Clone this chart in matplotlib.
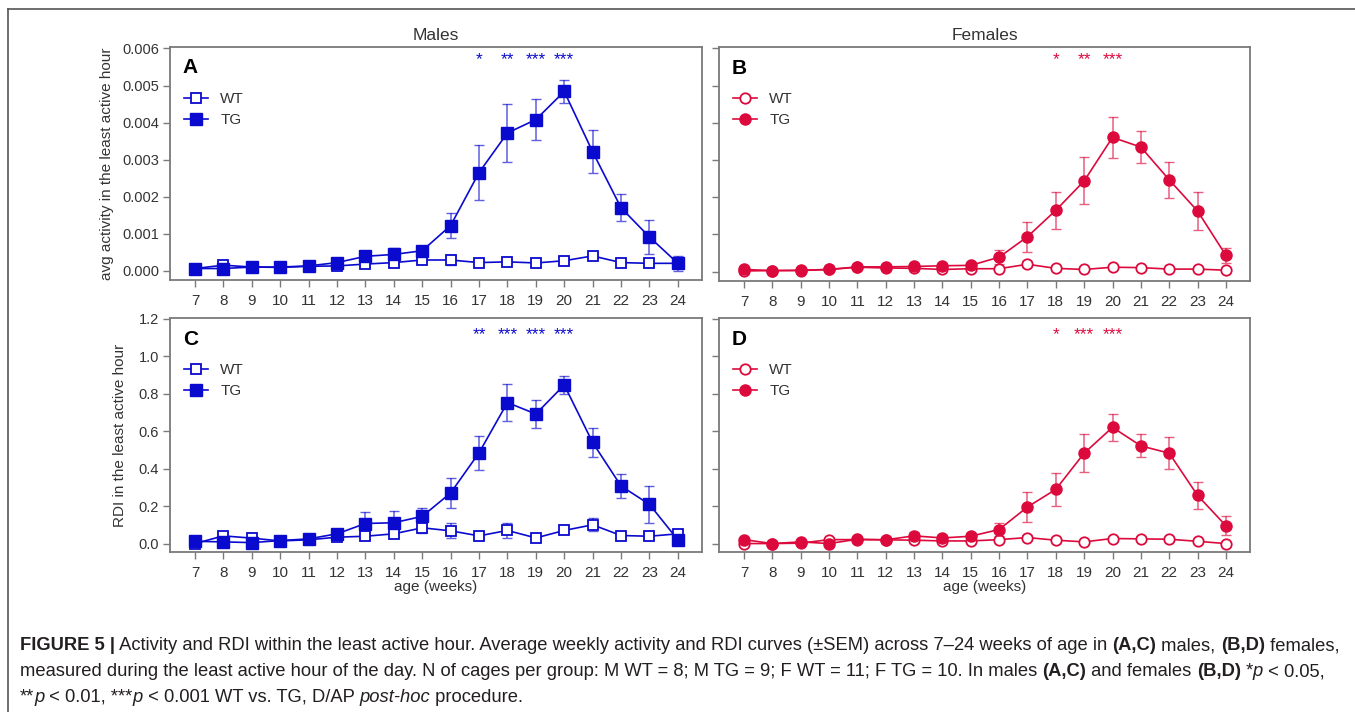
import numpy as np
import matplotlib
matplotlib.use("Agg")
import matplotlib.pyplot as plt
from matplotlib.lines import Line2D

plt.rcParams['font.family'] = ['Liberation Sans', 'DejaVu Sans']

weeks = list(range(7, 25))

# avg activity in the least active hour, males
act_m_wt = [0.00006, 0.00015, 0.00010, 0.00009, 0.00012, 0.00013, 0.00018, 0.00022, 0.00029,
            0.00029, 0.00022, 0.00024, 0.00021, 0.00027, 0.00040, 0.00022, 0.00020, 0.00020]
act_m_wt_sem = [0.00003, 0.00004, 0.00003, 0.00004, 0.00003, 0.00004, 0.00004, 0.00004, 0.00005,
                0.00013, 0.00004, 0.00004, 0.00004, 0.00004, 0.00005, 0.00004, 0.00004, 0.00005]
act_m_tg = [0.00006, 0.00006, 0.00010, 0.00010, 0.00013, 0.00022, 0.00039, 0.00044, 0.00054,
            0.00122, 0.00265, 0.00372, 0.00408, 0.00484, 0.00321, 0.00170, 0.00091, 0.00020]
act_m_tg_sem = [0.00003, 0.00003, 0.00003, 0.00003, 0.00003, 0.00005, 0.00015, 0.00018, 0.00008,
                0.00034, 0.00075, 0.00078, 0.00056, 0.00030, 0.00058, 0.00037, 0.00046, 0.00020]

# avg activity in the least active hour, females
act_f_wt = [0.00002, 0.00003, 0.00003, 0.00006, 0.00012, 0.00010, 0.00009, 0.00006, 0.00008,
            0.00008, 0.00020, 0.00009, 0.00006, 0.00012, 0.00011, 0.00007, 0.00007, 0.00004]
act_f_wt_sem = [0.00002, 0.00002, 0.00002, 0.00002, 0.00003, 0.00003, 0.00003, 0.00003, 0.00003,
                0.00003, 0.00008, 0.00003, 0.00002, 0.00003, 0.00003, 0.00002, 0.00002, 0.00002]
act_f_tg = [0.00006, 0.00003, 0.00004, 0.00006, 0.00013, 0.00013, 0.00014, 0.00016, 0.00017,
            0.00039, 0.00094, 0.00165, 0.00244, 0.00361, 0.00335, 0.00247, 0.00163, 0.00044]
act_f_tg_sem = [0.00003, 0.00002, 0.00003, 0.00003, 0.00004, 0.00005, 0.00005, 0.00005, 0.00005,
                0.00018, 0.00040, 0.00050, 0.00063, 0.00056, 0.00044, 0.00048, 0.00051, 0.00021]

# RDI in the least active hour, males
rdi_m_wt = [0.000, 0.041, 0.029, 0.014, 0.020, 0.034, 0.039, 0.052, 0.084,
            0.068, 0.041, 0.070, 0.030, 0.070, 0.100, 0.043, 0.039, 0.052]
rdi_m_wt_sem = [0.010, 0.020, 0.012, 0.008, 0.012, 0.012, 0.015, 0.015, 0.030,
                0.040, 0.020, 0.040, 0.010, 0.015, 0.035, 0.012, 0.012, 0.015]
rdi_m_tg = [0.012, 0.009, 0.005, 0.016, 0.025, 0.052, 0.107, 0.111, 0.145,
            0.270, 0.484, 0.752, 0.691, 0.846, 0.539, 0.307, 0.209, 0.020]
rdi_m_tg_sem = [0.010, 0.008, 0.006, 0.008, 0.010, 0.015, 0.059, 0.064, 0.043,
                0.079, 0.092, 0.100, 0.075, 0.050, 0.079, 0.062, 0.097, 0.012]

# RDI in the least active hour, females
rdi_f_wt = [0.000, 0.000, 0.002, 0.021, 0.021, 0.020, 0.018, 0.014, 0.014,
            0.021, 0.032, 0.018, 0.009, 0.027, 0.025, 0.023, 0.012, 0.000]
rdi_f_wt_sem = [0.008, 0.005, 0.006, 0.010, 0.008, 0.008, 0.008, 0.006, 0.006,
                0.008, 0.012, 0.006, 0.005, 0.008, 0.008, 0.012, 0.006, 0.005]
rdi_f_tg = [0.021, 0.000, 0.009, 0.000, 0.023, 0.020, 0.041, 0.030, 0.039,
            0.075, 0.195, 0.289, 0.482, 0.620, 0.521, 0.482, 0.257, 0.095]
rdi_f_tg_sem = [0.010, 0.005, 0.008, 0.006, 0.010, 0.010, 0.020, 0.018, 0.020,
                0.034, 0.080, 0.088, 0.100, 0.073, 0.061, 0.086, 0.073, 0.051]

# significance marks (WT vs TG) per panel
sig_weeks_a = [17, 18, 19, 20]
sig_marks_a = ['*', '**', '***', '***']
sig_weeks_b = [18, 19, 20]
sig_marks_b = ['*', '**', '***']
sig_weeks_c = [17, 18, 19, 20]
sig_marks_c = ['**', '***', '***', '***']
sig_weeks_d = [18, 19, 20]
sig_marks_d = ['*', '***', '***']

BLUE = '#0A0ACF'
RED = '#DC0A3C'
SPINE = '#7a7a7a'
TXT = '#333333'

W, H = 1355, 712
fig = plt.figure(figsize=(W / 100, H / 100), dpi=100)


def px_axes(x0, x1, y0, y1):
    return fig.add_axes([x0 / W, 1 - y1 / H, (x1 - x0) / W, (y1 - y0) / H])


ax_a = px_axes(170, 702, 47, 280)
ax_b = px_axes(719, 1250, 47, 281)
ax_c = px_axes(170, 702, 318, 552)
ax_d = px_axes(719, 1250, 318, 552)


def draw_panel(ax, wt, wt_sem, tg, tg_sem, color, marker, letter, sig_w, sig_m, star_y):
    # error bars are a bit lighter than the lines and markers
    ax.errorbar(weeks, wt, yerr=wt_sem, fmt='none', ecolor=color, elinewidth=1.1,
                capsize=3.5, alpha=0.65, zorder=2)
    ax.errorbar(weeks, tg, yerr=tg_sem, fmt='none', ecolor=color, elinewidth=1.1,
                capsize=3.5, alpha=0.65, zorder=2)
    ax.plot(weeks, wt, color=color, marker=marker, markersize=7.5,
            markerfacecolor='white', markeredgecolor=color, markeredgewidth=1.3,
            linewidth=1.2, zorder=3)
    ax.plot(weeks, tg, color=color, marker=marker, markersize=8,
            markerfacecolor=color, markeredgecolor=color, linewidth=1.2, zorder=4)
    ax.set_xlim(6.12, 24.85)
    ax.set_xticks(weeks)
    for s in ax.spines.values():
        s.set_color(SPINE)
        s.set_linewidth(1.3)
    ax.tick_params(direction='out', length=5, width=1, color=SPINE, labelcolor=TXT,
                   labelsize=10.5, pad=3)
    ax.tick_params(axis='x', labelsize=11, pad=5)
    ax.text(0.024, 0.91, letter, transform=ax.transAxes, fontsize=15, fontweight='bold',
            va='center', ha='left', color='black')
    for w, m in zip(sig_w, sig_m):
        ax.text(w, star_y, m, transform=ax.get_xaxis_transform(), fontsize=12.5,
                color=color, ha='center', va='center')
    h_wt = Line2D([], [], color=color, marker=marker, markersize=7.5, markerfacecolor='white',
                  markeredgewidth=1.3, linewidth=1.2)
    h_tg = Line2D([], [], color=color, marker=marker, markersize=8, markerfacecolor=color,
                  linewidth=1.2)
    ax.legend([h_wt, h_tg], ['WT', 'TG'], loc='upper left', bbox_to_anchor=(0.0, 0.865),
              frameon=False, handlelength=1.6, handletextpad=0.8, labelspacing=0.45,
              fontsize=11, labelcolor=TXT)


draw_panel(ax_a, act_m_wt, act_m_wt_sem, act_m_tg, act_m_tg_sem, BLUE, 's', 'A',
           sig_weeks_a, sig_marks_a, 0.945)
draw_panel(ax_b, act_f_wt, act_f_wt_sem, act_f_tg, act_f_tg_sem, RED, 'o', 'B',
           sig_weeks_b, sig_marks_b, 0.945)
draw_panel(ax_c, rdi_m_wt, rdi_m_wt_sem, rdi_m_tg, rdi_m_tg_sem, BLUE, 's', 'C',
           sig_weeks_c, sig_marks_c, 0.93)
draw_panel(ax_d, rdi_f_wt, rdi_f_wt_sem, rdi_f_tg, rdi_f_tg_sem, RED, 'o', 'D',
           sig_weeks_d, sig_marks_d, 0.93)

act_ticks = [0.0, 0.001, 0.002, 0.003, 0.004, 0.005, 0.006]
rdi_ticks = [0.0, 0.2, 0.4, 0.6, 0.8, 1.0, 1.2]
for ax in (ax_a, ax_b):
    ax.set_ylim(-0.00025, 0.00604)
    ax.set_yticks(act_ticks)
for ax in (ax_c, ax_d):
    ax.set_ylim(-0.045, 1.203)
    ax.set_yticks(rdi_ticks)
ax_a.set_yticklabels([f'{t:.3f}' for t in act_ticks])
ax_c.set_yticklabels([f'{t:.1f}' for t in rdi_ticks])
ax_b.set_yticklabels([])
ax_d.set_yticklabels([])

ax_a.set_ylabel('avg activity in the least active hour', fontsize=11, color=TXT, labelpad=6)
ax_c.set_ylabel('RDI in the least active hour', fontsize=11, color=TXT, labelpad=8)
ax_c.set_xlabel('age (weeks)', fontsize=11, color=TXT, labelpad=0)
ax_d.set_xlabel('age (weeks)', fontsize=11, color=TXT, labelpad=0)
ax_a.set_title('Males', fontsize=12.5, color=TXT, pad=5)
ax_b.set_title('Females', fontsize=12.5, color=TXT, pad=5)

# frame around the figure
fig.add_artist(Line2D([8 / W, 8 / W], [0, 1 - 9 / H], transform=fig.transFigure,
                      color='#555555', linewidth=1.2))
fig.add_artist(Line2D([8 / W, 1], [1 - 9 / H, 1 - 9 / H], transform=fig.transFigure,
                      color='#555555', linewidth=1.2))

# caption, written run by run so bold / italic parts can be mixed
caption = [
    [("FIGURE 5 |", 'bold', 'normal'),
     (" Activity and RDI within the least active hour. Average weekly activity and RDI curves (\u00b1SEM) across 7\u201324 weeks of age in ", 'normal', 'normal'),
     ("(A,C)", 'bold', 'normal'), (" males, ", 'normal', 'normal'),
     ("(B,D)", 'bold', 'normal'), (" females,", 'normal', 'normal')],
    [("measured during the least active hour of the day. N of cages per group: M WT = 8; M TG = 9; F WT = 11; F TG = 10. In males ", 'normal', 'normal'),
     ("(A,C)", 'bold', 'normal'), (" and females ", 'normal', 'normal'),
     ("(B,D)", 'bold', 'normal'), (" *", 'normal', 'normal'), ("p", 'normal', 'italic'),
     (" < 0.05,", 'normal', 'normal')],
    [("**", 'normal', 'normal'), ("p", 'normal', 'italic'),
     (" < 0.01, ***", 'normal', 'normal'), ("p", 'normal', 'italic'),
     (" < 0.001 WT vs. TG, D/AP ", 'normal', 'normal'), ("post-hoc", 'normal', 'italic'),
     (" procedure.", 'normal', 'normal')],
]
cap_y = [646, 672, 697]
cap_x0, cap_x1 = 20, 1336
renderer = fig.canvas.get_renderer()


def run_width(s, size, weight, style):
    t = fig.text(0, 0, '|' + s + '|', fontsize=size, fontweight=weight, fontstyle=style)
    w1 = t.get_window_extent(renderer).width
    t.set_text('||')
    w2 = t.get_window_extent(renderer).width
    t.remove()
    return w1 - w2


base = 11
w_line1 = sum(run_width(s, base, wt, st) for s, wt, st in caption[0])
cap_size = base * (cap_x1 - cap_x0) / w_line1

for runs, y in zip(caption, cap_y):
    x = cap_x0
    for s, wt, st in runs:
        fig.text(x / W, 1 - y / H, s, fontsize=cap_size, fontweight=wt, fontstyle=st,
                 color='#231F20', va='center', ha='left')
        x += run_width(s, cap_size, wt, st)

fig.savefig('out.png', dpi=100)
